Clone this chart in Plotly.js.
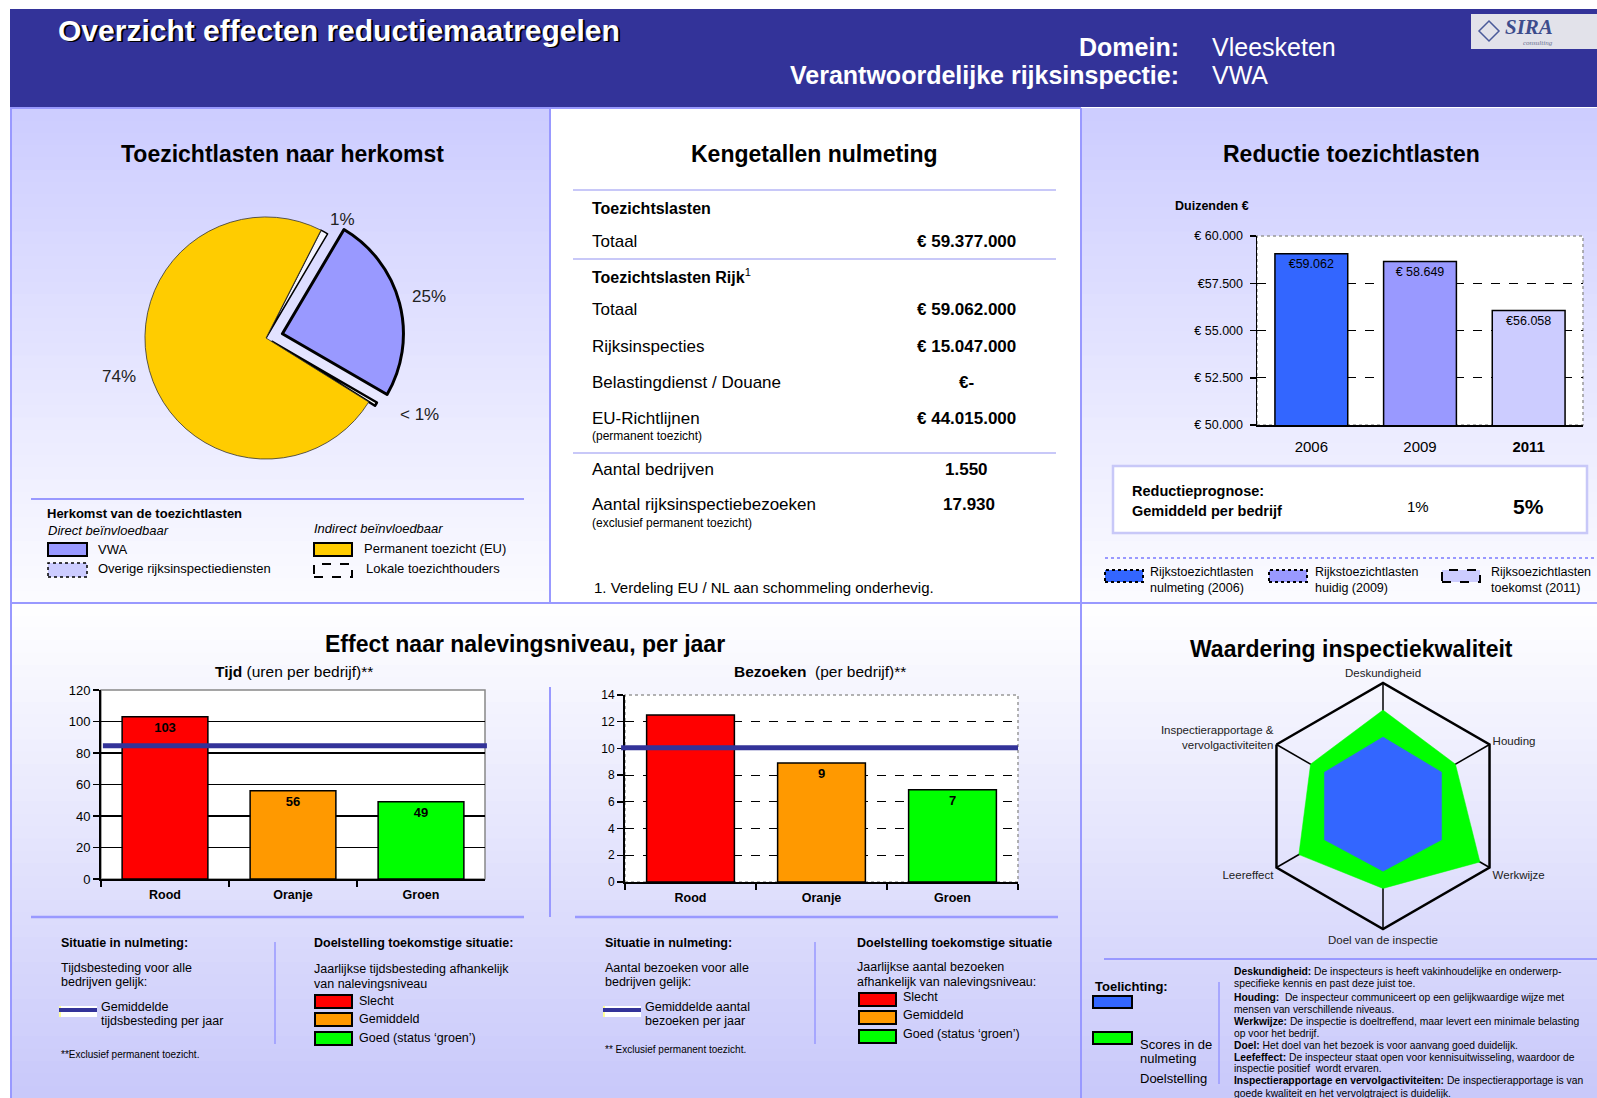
<!DOCTYPE html>
<html><head><meta charset="utf-8">
<script src="https://cdn.plot.ly/plotly-3.0.1.min.js"></script>
<style>html,body{margin:0;padding:0;background:#fff;overflow:hidden}#chart{width:1597px;height:1098px}</style>
</head><body><div id="chart"></div>
<script>
const W = 1597, H = 1098;
const FONT = '"Liberation Sans", Arial, Helvetica, sans-serif';

// ---------- DATA ----------
const headerTitle = 'Overzicht effecten reductiemaatregelen';
const domein = 'Vleesketen';
const rijksinspectie = 'VWA';

// Toezichtlasten naar herkomst (pie)
const pieLabels = ['Overige rijksinspectiediensten', 'VWA', 'Lokale toezichthouders', 'Permanent toezicht (EU)'];
const pieValues = [1, 25, 0.5, 74];
const pieText = ['1%', '25%', '< 1%', '74%'];
const pieColors = ['#f4f4ff', '#9999ff', '#ffffff', '#ffcc00'];

// Kengetallen nulmeting
const totaalToezichtslasten = '€ 59.377.000';
const rijkLabels = ['Totaal', 'Rijksinspecties', 'Belastingdienst / Douane', 'EU-Richtlijnen'];
const rijkValues = ['€ 59.062.000', '€ 15.047.000', '€-', '€ 44.015.000'];
const aantalBedrijven = '1.550';
const aantalBezoeken = '17.930';

// Reductie toezichtlasten (duizenden €)
const years = ['2006', '2009', '2011'];
const yearTickText = ['2006', '2009', '<b>2011</b>'];
const lasten = [59062, 58649, 56058];
const lastenLabels = ['€59.062', '€ 58.649', '€56.058'];
const lastenColors = ['#3366ff', '#9999ff', '#ccccff'];
const lastenTicks = [50000, 52500, 55000, 57500, 60000];
const lastenTickText = ['€ 50.000', '€ 52.500', '€ 55.000', '€57.500', '€ 60.000'];
const reductiePrognose = ['1%', '5%'];
const lastenLegend = ['Rijkstoezichtlasten<br>nulmeting (2006)', 'Rijkstoezichtlasten<br>huidig (2009)', 'Rijksoezichtlasten<br>toekomst (2011)'];

// Effect naar nalevingsniveau
const niveaus = ['Rood', 'Oranje', 'Groen'];
const niveauTickText = ['<b>Rood</b>', '<b>Oranje</b>', '<b>Groen</b>'];
const niveauColors = ['#ff0000', '#ff9900', '#00ff00'];
const tijdUren = [103, 56, 49];
const tijdLabels = ['103', '56', '49'];
const tijdGemiddeld = 84.6;
const bezoeken = [12.5, 8.9, 6.9];
const bezoekenLabels = ['', '9', '7'];
const bezoekenGemiddeld = 10.05;

// Waardering inspectiekwaliteit (radar)
const aspecten = ['Deskundigheid', 'Houding', 'Werkwijze', 'Doel van de inspectie', 'Leereffect', 'Inspectierapportage &<br>vervolgactiviteiten'];
const nulmetingScores = [5.6, 5.5, 5.5, 5.3, 5.5, 5.5];
const doelScores = [7.8, 6.8, 9.1, 6.7, 7.9, 6.8];

// ---------- HELPERS ----------
const X = p => p / W;
const Y = p => 1 - p / H;
const shapes = [];
const annotations = [];

function rect(x0, y0, x1, y1, fill, line, layer) {
  return {type: 'rect', xref: 'paper', yref: 'paper', x0: X(x0), x1: X(x1), y0: Y(y1), y1: Y(y0),
    fillcolor: fill, line: line || {width: 0}, layer: layer || 'above'};
}
function seg(x0, y0, x1, y1, color, width, dash) {
  return {type: 'line', xref: 'paper', yref: 'paper', x0: X(x0), x1: X(x1), y0: Y(y0), y1: Y(y1),
    line: {color: color, width: width || 2, dash: dash || 'solid'}, layer: 'above'};
}
function ann(x, y, text, o) {
  o = o || {};
  return {xref: 'paper', yref: 'paper', x: X(x), y: Y(y), text: text, showarrow: false,
    xanchor: o.anchor || 'left', yanchor: 'middle', align: o.align || 'left',
    font: {family: o.family || FONT, size: o.size || 13, color: o.color || '#000'}};
}
function mix(c0, c1, t) { return 'rgb(' + c0.map((v, i) => Math.round(v + (c1[i] - v) * t)).join(',') + ')'; }
function grad(x0, x1, y0, y1, c0, c1, n) {
  const h = (y1 - y0) / n;
  for (let i = 0; i < n; i++) {
    shapes.push(rect(x0, y0 + i * h, x1, Math.min(y1, y0 + (i + 1) * h + 1), mix(c0, c1, (i + 0.5) / n), null, 'below'));
  }
}

// ---------- BACKGROUND PANELS ----------
const LAV = [204, 204, 255], WHITE = [255, 255, 255];
grad(10, 550, 108, 603, LAV, [252, 252, 255], 40);
grad(1081, 1597, 108, 603, LAV, [252, 252, 255], 40);
shapes.push(rect(550, 108, 1081, 603, '#ffffff', null, 'below'));
grad(10, 1081, 603, 1098, WHITE, [200, 200, 250], 40);
grad(1081, 1597, 603, 1098, WHITE, [200, 200, 250], 40);

// header
shapes.push(rect(10, 9, 1597, 107, '#333399', null, 'below'));
shapes.push(seg(10, 108, 1081, 108, '#9999ff', 2));
// logo
shapes.push(rect(1471, 14, 1597, 49, '#e2e2ea', null, 'above'));
shapes.push({type: 'path', xref: 'paper', yref: 'paper', layer: 'above',
  path: `M ${X(1489)} ${Y(21)} L ${X(1499)} ${Y(31)} L ${X(1489)} ${Y(41)} L ${X(1479)} ${Y(31)} Z`,
  line: {color: '#4a5a9a', width: 1.5}, fillcolor: 'rgba(0,0,0,0)'});

// panel borders
const BORDER = '#9999ff';
shapes.push(seg(11, 108, 11, 1098, BORDER, 2));
shapes.push(seg(550, 108, 550, 603, BORDER, 2));
shapes.push(seg(1081, 108, 1081, 1098, BORDER, 2));
shapes.push(seg(10, 603, 1597, 603, BORDER, 2));

// ---------- HEADER TEXT ----------
annotations.push(ann(58, 32, '<b>' + headerTitle + '</b>', {size: 30, color: '#000'}));
annotations.push(ann(56, 30, '<b>' + headerTitle + '</b>', {size: 30, color: '#fff'}));
annotations.push(ann(1181, 47, '<b>Domein:</b>', {size: 25, color: '#fff', anchor: 'right'}));
annotations.push(ann(1210, 47, domein, {size: 25, color: '#fff'}));
annotations.push(ann(1181, 75, '<b>Verantwoordelijke rijksinspectie:</b>', {size: 25, color: '#fff', anchor: 'right'}));
annotations.push(ann(1210, 75, rijksinspectie, {size: 25, color: '#fff'}));
annotations.push(ann(1503, 27, '<b><i>SIRA</i></b>', {size: 21, color: '#3d4c8c', family: '"Liberation Serif", "DejaVu Serif", serif'}));
annotations.push(ann(1521, 43, '<i>consulting</i>', {size: 7, color: '#6a7090', family: '"Liberation Serif", serif'}));

// ---------- PANEL TITLES ----------
annotations.push(ann(282, 154, '<b>Toezichtlasten naar herkomst</b>', {size: 23, anchor: 'center'}));
annotations.push(ann(815, 154, '<b>Kengetallen nulmeting</b>', {size: 23, anchor: 'center'}));
annotations.push(ann(1351, 154, '<b>Reductie toezichtlasten</b>', {size: 23, anchor: 'center'}));
annotations.push(ann(525, 644, '<b>Effect naar nalevingsniveau, per jaar</b>', {size: 23, anchor: 'center'}));
annotations.push(ann(1351, 649, '<b>Waardering inspectiekwaliteit</b>', {size: 23, anchor: 'center'}));

// ---------- PIE LABELS + LEGEND ----------
const pieLabelPos = [[342, 220], [429, 296], [419, 415], [119, 376]];
pieText.forEach((t, i) => annotations.push(ann(pieLabelPos[i][0], pieLabelPos[i][1], t, {size: 17, color: '#222', anchor: 'center'})));

shapes.push(seg(31, 499, 524, 499, BORDER, 2));
annotations.push(ann(45, 513, '<b>Herkomst van de toezichtlasten</b>', {size: 13}));
annotations.push(ann(46, 530, '<i>Direct beïnvloedbaar</i>', {size: 13}));
annotations.push(ann(312, 528, '<i>Indirect beïnvloedbaar</i>', {size: 13}));
shapes.push(rect(48, 543, 87, 556, pieColors[1], {color: '#000', width: 2}));
annotations.push(ann(96, 549, pieLabels[1], {size: 13}));
shapes.push(rect(48, 563, 87, 577, '#ccccff', {color: '#000', width: 1.5, dash: 'dot'}));
annotations.push(ann(96, 569, pieLabels[0], {size: 13}));
shapes.push(rect(314, 543, 352, 556, pieColors[3], {color: '#000', width: 2}));
annotations.push(ann(362, 548, pieLabels[3], {size: 13}));
shapes.push(rect(314, 564, 352, 577, 'rgba(0,0,0,0)', {color: '#000', width: 2, dash: 'dash'}));
annotations.push(ann(364, 569, pieLabels[2], {size: 13}));

// ---------- KENGETALLEN TABLE ----------
const TL = 590, TR = 1018, TC = 966;
shapes.push(seg(573, 190, 1056, 190, '#c8c8f8', 2));
shapes.push(seg(573, 259, 1056, 259, '#c8c8f8', 2));
shapes.push(seg(573, 453, 1056, 453, '#c8c8f8', 2));
annotations.push(ann(TL, 208, '<b>Toezichtslasten</b>', {size: 16}));
annotations.push(ann(TL, 242, 'Totaal', {size: 17}));
annotations.push(ann(TR, 242, '<b>' + totaalToezichtslasten + '</b>', {size: 17, anchor: 'right'}));
annotations.push(ann(TL, 276, '<b>Toezichtslasten Rijk</b><sup>1</sup>', {size: 16}));
const rijkY = [310, 346, 382, 418];
rijkLabels.forEach((l, i) => {
  annotations.push(ann(TL, rijkY[i], l, {size: 17}));
  if (rijkValues[i] === '€-') annotations.push(ann(TC, rijkY[i], '<b>' + rijkValues[i] + '</b>', {size: 17, anchor: 'center'}));
  else annotations.push(ann(TR, rijkY[i], '<b>' + rijkValues[i] + '</b>', {size: 17, anchor: 'right'}));
});
annotations.push(ann(TL, 436, '(permanent toezicht)', {size: 12}));
annotations.push(ann(TL, 470, 'Aantal bedrijven', {size: 17}));
annotations.push(ann(TC, 470, '<b>' + aantalBedrijven + '</b>', {size: 17, anchor: 'center'}));
annotations.push(ann(TL, 504, 'Aantal rijksinspectiebezoeken', {size: 17}));
annotations.push(ann(TC + 3, 504, '<b>' + aantalBezoeken + '</b>', {size: 17, anchor: 'center'}));
annotations.push(ann(TL, 523, '(exclusief permanent toezicht)', {size: 12}));
annotations.push(ann(592, 587, '1. Verdeling EU / NL aan schommeling onderhevig.', {size: 15}));

// ---------- REDUCTIE ----------
annotations.push(ann(1173, 206, '<b>Duizenden €</b>', {size: 12.5}));
shapes.push({type: 'rect', xref: 'x domain', yref: 'y domain', x0: 0, x1: 1, y0: 0, y1: 1,
  fillcolor: '#fff', line: {color: '#999', width: 1.5, dash: 'dot'}, layer: 'below'});
shapes.push(rect(1113, 466, 1587, 533, '#ffffff', {color: '#c8c8f8', width: 2.5}));
annotations.push(ann(1130, 491, '<b>Reductieprognose:</b>', {size: 14.5}));
annotations.push(ann(1130, 511, '<b>Gemiddeld per bedrijf</b>', {size: 14.5}));
annotations.push(ann(1418, 507, reductiePrognose[0], {size: 15, anchor: 'center'}));
annotations.push(ann(1528, 506, '<b>' + reductiePrognose[1] + '</b>', {size: 21, anchor: 'center'}));
shapes.push(seg(1105, 558, 1597, 558, '#9999ff', 2, 'dot'));
const legX = [1105, 1269, 1442];
const legTX = [1148, 1313, 1489];
const legDash = ['dot', 'dot', 'dash'];
lastenLegend.forEach((t, i) => {
  shapes.push(rect(legX[i], 570, legX[i] + 38, 582, lastenColors[i], {color: '#000', width: 2, dash: legDash[i]}));
  annotations.push(ann(legTX[i], 580, t, {size: 12.5}));
});

// ---------- EFFECT ----------
annotations.push(ann(294, 671, '<b>Tijd</b> (uren per bedrijf)**', {size: 15.5, anchor: 'center'}));
annotations.push(ann(820, 671, '<b>Bezoeken</b>  (per bedrijf)**', {size: 15.5, anchor: 'center'}));
shapes.push({type: 'rect', xref: 'x2 domain', yref: 'y2 domain', x0: 0, x1: 1, y0: 0, y1: 1,
  fillcolor: '#fff', line: {color: '#888', width: 1.5}, layer: 'below'});
shapes.push({type: 'rect', xref: 'x3 domain', yref: 'y3 domain', x0: 0, x1: 1, y0: 0, y1: 1,
  fillcolor: '#fff', line: {color: '#999', width: 1.5, dash: 'dot'}, layer: 'below'});
shapes.push({type: 'line', xref: 'x2 domain', yref: 'y2', x0: 0.005, x1: 1.005, y0: tijdGemiddeld, y1: tijdGemiddeld,
  line: {color: '#333399', width: 5}, layer: 'above'});
shapes.push({type: 'line', xref: 'x3 domain', yref: 'y3', x0: -0.01, x1: 1, y0: bezoekenGemiddeld, y1: bezoekenGemiddeld,
  line: {color: '#333399', width: 5}, layer: 'above'});
shapes.push(seg(550, 687, 550, 917, BORDER, 2));
shapes.push(seg(31, 917, 524, 917, BORDER, 2.5));
shapes.push(seg(575, 917, 1058, 917, BORDER, 2.5));
shapes.push(seg(275, 942, 275, 1044, BORDER, 1.5));
shapes.push(seg(815, 942, 815, 1044, BORDER, 1.5));

function bottomBlock(x0, lines, legText, excl) {
  annotations.push(ann(x0, 943, '<b>Situatie in nulmeting:</b>', {size: 12.5}));
  annotations.push(ann(x0, 968, lines[0], {size: 12.5}));
  annotations.push(ann(x0, 982, lines[1], {size: 12.5}));
  shapes.push(rect(x0, 1006, x0 + 38, 1017, '#ffffff', null, 'above'));
  shapes.push(rect(x0, 1006, x0 + 2, 1017, '#ffff99', null, 'above'));
  shapes.push(seg(x0, 1010, x0 + 38, 1010, '#333399', 4));
  annotations.push(ann(x0 + 40, 1007, legText[0], {size: 12.5}));
  annotations.push(ann(x0 + 40, 1021, legText[1], {size: 12.5}));
  annotations.push(ann(x0, excl[1], excl[0], {size: 10}));
}
bottomBlock(59, ['Tijdsbesteding voor alle', 'bedrijven gelijk:'], ['Gemiddelde', 'tijdsbesteding per jaar'], ['**Exclusief permanent toezicht.', 1054]);
bottomBlock(603, ['Aantal bezoeken voor alle', 'bedrijven gelijk:'], ['Gemiddelde aantal', 'bezoeken per jaar'], ['** Exclusief permanent toezicht.', 1049]);

const statusLabels = ['Slecht', 'Gemiddeld', 'Goed (status ‘groen’)'];
annotations.push(ann(312, 943, '<b>Doelstelling toekomstige situatie:</b>', {size: 12.5}));
annotations.push(ann(312, 969, 'Jaarlijkse tijdsbesteding afhankelijk', {size: 12.5}));
annotations.push(ann(312, 984, 'van nalevingsniveau', {size: 12.5}));
[995, 1013, 1032].forEach((y, i) => {
  shapes.push(rect(315, y, 352, y + 13, niveauColors[i], {color: '#000', width: 2}));
  annotations.push(ann(357, y + 6, statusLabels[i], {size: 12.5}));
});
annotations.push(ann(855, 943, '<b>Doelstelling toekomstige situatie</b>', {size: 12.5}));
annotations.push(ann(855, 967, 'Jaarlijkse aantal bezoeken', {size: 12.5}));
annotations.push(ann(855, 982, 'afhankelijk van nalevingsniveau:', {size: 12.5}));
[993, 1011, 1030].forEach((y, i) => {
  shapes.push(rect(859, y, 896, y + 13, niveauColors[i], {color: '#000', width: 2}));
  annotations.push(ann(901, y + 4, statusLabels[i], {size: 12.5}));
});

// ---------- WAARDERING ----------
shapes.push(seg(1104, 959, 1597, 959, BORDER, 2));
annotations.push(ann(1093, 986, '<b>Toelichting:</b>', {size: 13}));
shapes.push(rect(1093, 996, 1132, 1008, '#3366ff', {color: '#000', width: 2}));
shapes.push(rect(1093, 1032, 1132, 1044, '#00ff00', {color: '#000', width: 2}));
annotations.push(ann(1138, 1044, 'Scores in de', {size: 13}));
annotations.push(ann(1138, 1058, 'nulmeting', {size: 13}));
annotations.push(ann(1138, 1078, 'Doelstelling', {size: 13}));
shapes.push(seg(1219, 982, 1219, 1084, BORDER, 1.5));
const toelichting = [
  '<b>Deskundigheid:</b> De inspecteurs is heeft vakinhoudelijke en onderwerp-',
  'specifieke kennis en past deze juist toe.',
  '<b>Houding:</b>  De inspecteur communiceert op een gelijkwaardige wijze met',
  'mensen van verschillende niveaus.',
  '<b>Werkwijze:</b> De inspectie is doeltreffend, maar levert een minimale belasting',
  'op voor het bedrijf.',
  '<b>Doel:</b> Het doel van het bezoek is voor aanvang goed duidelijk.',
  '<b>Leefeffect:</b> De inspecteur staat open voor kennisuitwisseling, waardoor de',
  'inspectie positief  wordt ervaren.',
  '<b>Inspectierapportage en vervolgactiviteiten:</b> De inspectierapportage is van',
  'goede kwaliteit en het vervolgtraject is duidelijk.'
];
const toelY = [971, 983, 997, 1009, 1021, 1033, 1045, 1057, 1068, 1080, 1093];
toelichting.forEach((t, i) => annotations.push(ann(1232, toelY[i], t, {size: 10.3})));

// ---------- TRACES ----------
const traces = [
  {type: 'pie', labels: pieLabels, values: pieValues, textinfo: 'none', textposition: 'none',
   sort: false, direction: 'clockwise', rotation: 27,
   pull: [0, 0.14, 0.06, 0], marker: {colors: pieColors, line: {color: ['#000', '#000', '#000', '#333'], width: [1.5, 3, 2.5, 0.8]}},
   domain: {x: [X(128), X(404)], y: [Y(476), Y(200)]}, hoverinfo: 'none', showlegend: false},
  {type: 'bar', x: years, y: lasten, xaxis: 'x', yaxis: 'y', width: 0.67, text: lastenLabels, textposition: 'inside',
   insidetextanchor: 'end', textangle: 0, constraintext: 'none', insidetextfont: {family: FONT, size: 12.5, color: '#000'},
   marker: {color: lastenColors, line: {color: '#000', width: 1.5}}, hoverinfo: 'none'},
  {type: 'bar', x: niveaus, y: tijdUren, xaxis: 'x2', yaxis: 'y2', width: 0.67, text: tijdLabels, textposition: 'inside',
   insidetextanchor: 'end', textangle: 0, constraintext: 'none', insidetextfont: {family: FONT, size: 13, color: '#000'},
   texttemplate: '<b>%{text}</b>',
   marker: {color: niveauColors, line: {color: '#000', width: 1.5}}, hoverinfo: 'none'},
  {type: 'bar', x: niveaus, y: bezoeken, xaxis: 'x3', yaxis: 'y3', width: 0.67, text: bezoekenLabels,
   textposition: bezoekenLabels.map(t => t ? 'inside' : 'none'),
   insidetextanchor: 'end', textangle: 0, constraintext: 'none', insidetextfont: {family: FONT, size: 13, color: '#000'},
   texttemplate: '<b>%{text}</b>',
   marker: {color: niveauColors, line: {color: '#000', width: 1.5}}, hoverinfo: 'none'},
  {type: 'scatterpolar', subplot: 'polar', r: doelScores.concat([doelScores[0]]), theta: aspecten.concat([aspecten[0]]),
   mode: 'lines', fill: 'toself', fillcolor: '#00ff00', line: {color: '#00ff00', width: 0.5}, hoverinfo: 'none'},
  {type: 'scatterpolar', subplot: 'polar', r: nulmetingScores.concat([nulmetingScores[0]]), theta: aspecten.concat([aspecten[0]]),
   mode: 'lines', fill: 'toself', fillcolor: '#3366ff', line: {color: '#3366ff', width: 0.5}, hoverinfo: 'none'}
];

const layout = {
  width: W, height: H, margin: {l: 0, r: 0, t: 0, b: 0}, paper_bgcolor: '#fff', plot_bgcolor: '#fff',
  showlegend: false, font: {family: FONT, color: '#000'}, bargap: 0.33,
  xaxis: {domain: [X(1257), X(1583)], anchor: 'y', type: 'category', tickvals: years, ticktext: yearTickText,
    range: [-0.5, 2.5], tickfont: {size: 15, color: '#000'}, ticks: '', ticklabelstandoff: 7,
    showline: true, linecolor: '#000', linewidth: 1.5, showgrid: false, zeroline: false, fixedrange: true},
  yaxis: {domain: [Y(425), Y(236)], anchor: 'x', range: [50000, 60000], tickvals: lastenTicks, ticktext: lastenTickText,
    tickfont: {size: 12.5, color: '#000'}, ticks: 'outside', ticklen: 6, tickcolor: '#000', tickwidth: 1.5,
    ticklabelstandoff: 4, showline: true, linecolor: '#000', linewidth: 1.5, showgrid: true, gridcolor: '#000',
    griddash: 'dash', gridwidth: 1, zeroline: false, fixedrange: true},
  xaxis2: {domain: [X(101), X(485)], anchor: 'y2', type: 'category', tickvals: niveaus, ticktext: niveauTickText,
    range: [-0.5, 2.5], tickson: 'boundaries', ticks: 'outside', ticklen: 6, tickwidth: 2, tickcolor: '#000',
    ticklabelstandoff: 3,
    tickfont: {size: 12.5, color: '#000'}, showline: true, linecolor: '#000', linewidth: 2, showgrid: false,
    zeroline: false, fixedrange: true},
  yaxis2: {domain: [Y(879), Y(690)], anchor: 'x2', range: [0, 120], dtick: 20, tickfont: {size: 13, color: '#000'},
    ticks: 'outside', ticklen: 6, tickwidth: 1.5, tickcolor: '#000', showline: true, linecolor: '#000', linewidth: 2,
    showgrid: true, gridcolor: '#000', gridwidth: 1.2, zeroline: false, fixedrange: true},
  xaxis3: {domain: [X(625), X(1018)], anchor: 'y3', type: 'category', tickvals: niveaus, ticktext: niveauTickText,
    range: [-0.5, 2.5], tickson: 'boundaries', ticks: 'outside', ticklen: 6, tickwidth: 2, tickcolor: '#000',
    ticklabelstandoff: 3,
    tickfont: {size: 12.5, color: '#000'}, showline: true, linecolor: '#000', linewidth: 2, showgrid: false,
    zeroline: false, fixedrange: true},
  yaxis3: {domain: [Y(882), Y(695)], anchor: 'x3', range: [0, 14], dtick: 2, tickfont: {size: 12, color: '#000'},
    ticks: 'outside', ticklen: 6, tickwidth: 1.5, tickcolor: '#000', showline: true, linecolor: '#000', linewidth: 2,
    showgrid: true, gridcolor: '#000', griddash: 'dash', gridwidth: 1.2, zeroline: false, fixedrange: true},
  polar: {domain: {x: [X(1260), X(1506)], y: [Y(929), Y(683)]}, bgcolor: 'rgba(0,0,0,0)', gridshape: 'linear',
    radialaxis: {visible: false, range: [0, 10]},
    angularaxis: {direction: 'clockwise', rotation: 90, showline: true, linecolor: '#000', linewidth: 2.5,
      showgrid: true, gridcolor: '#000', gridwidth: 1.5, ticks: '', layer: 'above traces',
      tickfont: {family: FONT, size: 11.5, color: '#222'}}},
  shapes: shapes,
  annotations: annotations
};

Plotly.newPlot('chart', traces, layout, {staticPlot: true, displayModeBar: false});
</script>
</body></html>
